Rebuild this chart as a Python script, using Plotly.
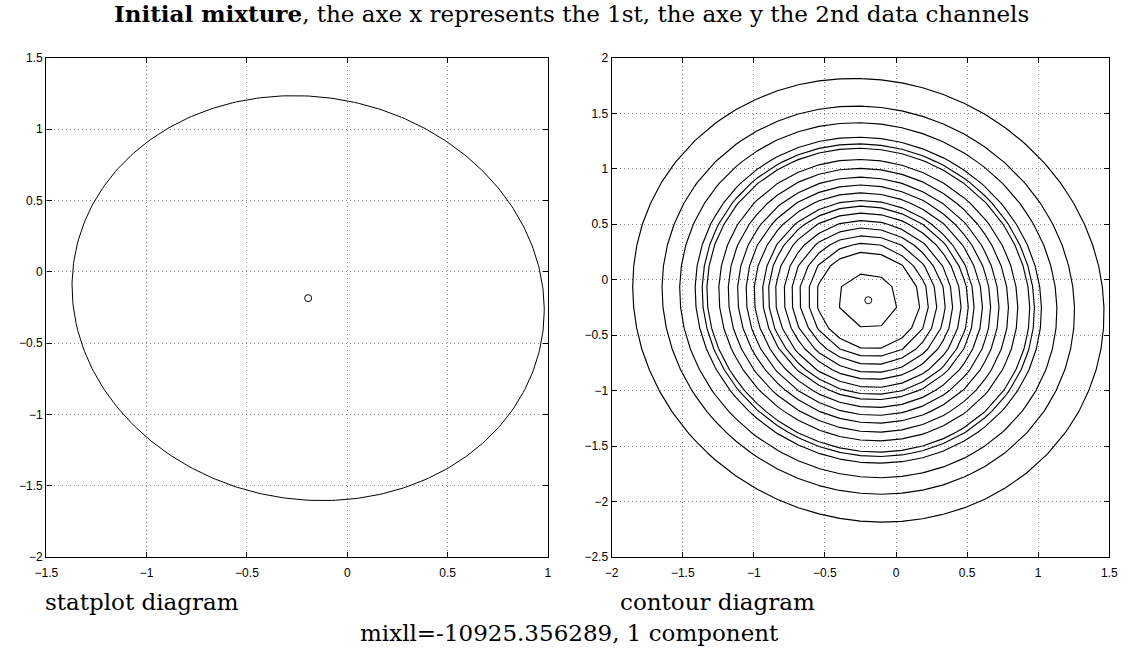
import numpy as np
import plotly.graph_objects as go

# ---- data ----
MEAN = [-0.195, -0.185]                      # component mean (channel 1, channel 2)
COV = [[1.385, -0.100], [-0.100, 2.016]]     # component covariance
# Mahalanobis radii of the contour lines drawn in the contour diagram
CONTOUR_RADII = [1.408, 1.232, 1.127, 1.035, 0.993, 0.965, 0.894, 0.838,
                 0.782, 0.732, 0.683, 0.634, 0.599, 0.556, 0.507, 0.461,
                 0.413, 0.363, 0.311, 0.181]
GRID_N = 25
LEFT_XRANGE = [-1.5, 1.0]
LEFT_YRANGE = [-2.0, 1.5]
RIGHT_XRANGE = [-2.0, 1.5]
RIGHT_YRANGE = [-2.5, 2.0]

TITLE = "<b>Initial mixture</b>, the axe x represents the 1st, the axe y the 2nd data channels"
LEFT_LABEL = "statplot diagram"
RIGHT_LABEL = "contour diagram"
FOOTER = "mixll=-10925.356289, 1 component"

mu = np.array(MEAN)
S = np.array(COV)

# 1-sigma ellipse for the statplot
vals, vecs = np.linalg.eigh(S)
t = np.linspace(0, 2 * np.pi, 361)
circ = np.vstack([np.cos(t), np.sin(t)])
ell = vecs @ (np.sqrt(vals)[:, None] * circ) + mu[:, None]

# gaussian density on a coarse grid for the contour diagram
gx = np.linspace(RIGHT_XRANGE[0], RIGHT_XRANGE[1], GRID_N)
gy = np.linspace(RIGHT_YRANGE[0], RIGHT_YRANGE[1], GRID_N)
X, Y = np.meshgrid(gx, gy)
Si = np.linalg.inv(S)
dx = X - mu[0]
dy = Y - mu[1]
d2 = Si[0, 0] * dx * dx + 2 * Si[0, 1] * dx * dy + Si[1, 1] * dy * dy
Z = np.exp(-0.5 * d2)

fig = go.Figure()
fig.add_trace(go.Scatter(x=ell[0], y=ell[1], mode="lines",
                         line=dict(color="black", width=1), xaxis="x", yaxis="y",
                         showlegend=False, hoverinfo="skip"))
fig.add_trace(go.Scatter(x=[MEAN[0]], y=[MEAN[1]], mode="markers",
                         marker=dict(symbol="circle-open", size=7, color="black",
                                     line=dict(width=1)),
                         xaxis="x", yaxis="y", showlegend=False))

for r in CONTOUR_RADII:
    lev = float(np.exp(-0.5 * r * r))
    fig.add_trace(go.Contour(x=gx, y=gy, z=Z, xaxis="x2", yaxis="y2",
                             contours=dict(start=lev, end=lev, size=1.0,
                                           coloring="lines", showlabels=False),
                             line=dict(color="black", width=1.15, smoothing=0),
                             colorscale=[[0, "black"], [1, "black"]],
                             showscale=False, hoverinfo="skip"))
fig.add_trace(go.Scatter(x=[MEAN[0]], y=[MEAN[1]], mode="markers",
                         marker=dict(symbol="circle-open", size=7, color="black",
                                     line=dict(width=1)),
                         xaxis="x2", yaxis="y2", showlegend=False))

W, H = 1132, 652
def px_x(p):
    return p / W
def px_y(p):
    return 1 - p / H

axis_common = dict(showline=True, mirror="ticks", linecolor="black", linewidth=1.3,
                   ticks="inside", ticklen=5, tickcolor="black", tickwidth=1,
                   showgrid=True, gridcolor="#8c8c8c", griddash="1px,3px", gridwidth=1,
                   zeroline=False, dtick=0.5,
                   tickfont=dict(family="Liberation Sans", size=12, color="black"))
xaxis_extra = dict(ticklabelstandoff=5)

SERIF = "DejaVu Serif"
fig.update_layout(
    width=W, height=H,
    margin=dict(l=0, r=0, t=0, b=0),
    paper_bgcolor="white", plot_bgcolor="white",
    showlegend=False,
    xaxis=dict(domain=[px_x(35), px_x(546)], range=LEFT_XRANGE, anchor="y",
               **axis_common, **xaxis_extra),
    yaxis=dict(domain=[px_y(562), px_y(52)], range=LEFT_YRANGE, anchor="x", **axis_common),
    xaxis2=dict(domain=[px_x(611), px_x(1118)], range=RIGHT_XRANGE, anchor="y2",
                **axis_common, **xaxis_extra),
    yaxis2=dict(domain=[px_y(562), px_y(52)], range=RIGHT_YRANGE, anchor="x2", **axis_common),
    annotations=[
        dict(text=TITLE, x=px_x(570), y=px_y(7), xref="paper", yref="paper",
             xanchor="center", yanchor="middle", showarrow=False,
             font=dict(family=SERIF, size=23, color="black")),
        dict(text=LEFT_LABEL, x=px_x(32), y=px_y(608), xref="paper", yref="paper",
             xanchor="left", yanchor="middle", showarrow=False,
             font=dict(family=SERIF, size=23, color="black")),
        dict(text=RIGHT_LABEL, x=px_x(617), y=px_y(608), xref="paper", yref="paper",
             xanchor="left", yanchor="middle", showarrow=False,
             font=dict(family=SERIF, size=23, color="black")),
        dict(text=FOOTER, x=px_x(568), y=px_y(640), xref="paper", yref="paper",
             xanchor="center", yanchor="middle", showarrow=False,
             font=dict(family=SERIF, size=23, color="black")),
    ],
)

fig.write_html("out.html")
